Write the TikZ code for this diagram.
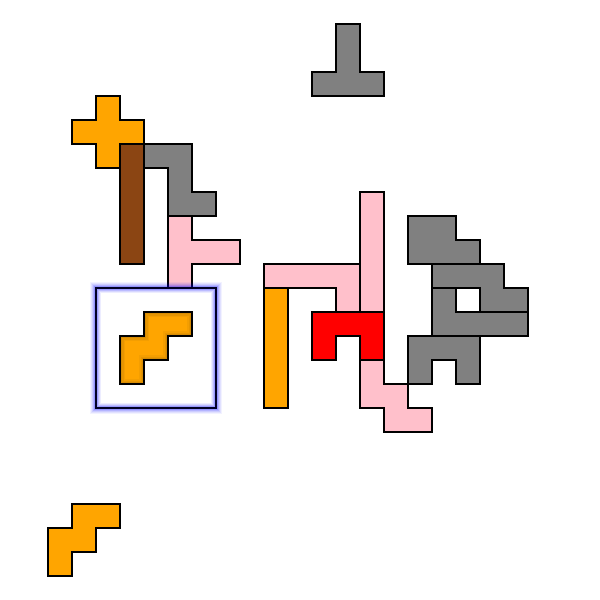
\documentclass[tikz,border=0pt]{standalone}
\usetikzlibrary{calc}
\definecolor{pgray}{HTML}{808080}
\definecolor{ppink}{HTML}{FFC0CB}
\definecolor{porange}{HTML}{FFA500}
\definecolor{pbrown}{HTML}{8B4513}
\definecolor{pred}{HTML}{FF0000}
\tikzset{
  piece/.style={draw=black, line width=2pt, line join=miter},
}
\begin{document}
\begin{tikzpicture}[x=1pt,y=-1pt]
\useasboundingbox (0,0) rectangle (600,600);
% top gray T
\draw[piece, fill=pgray] (336,24)--(360,24)--(360,72)--(384,72)--(384,96)--(312,96)--(312,72)--(336,72)--cycle;
% orange plus
\draw[piece, fill=porange] (96,96)--(120,96)--(120,120)--(144,120)--(144,144)--(120,144)--(120,168)--(96,168)--(96,144)--(72,144)--(72,120)--(96,120)--cycle;
% brown bar
\draw[piece, fill=pbrown] (120,144) rectangle (144,264);
% gray S
\draw[piece, fill=pgray] (144,144)--(192,144)--(192,192)--(216,192)--(216,216)--(168,216)--(168,168)--(144,168)--cycle;
% pink T
\draw[piece, fill=ppink] (168,216)--(192,216)--(192,240)--(240,240)--(240,264)--(192,264)--(192,288)--(168,288)--cycle;
% frame with glow
\foreach \w/\o in {12/0.05,10/0.07,8/0.09,6/0.12,4/0.18}{
  \draw[blue, line width=\w pt, opacity=\o] (96,288) rectangle (216,408);
}
\draw[fill=white, draw=none] (96,288) rectangle (216,408);
\foreach \w/\o in {10/0.07,8/0.09,6/0.12,4/0.18}{
  \begin{scope}
  \clip (96,288) rectangle (216,408);
  \draw[blue, line width=\w pt, opacity=\o] (96,288) rectangle (216,408);
  \end{scope}
}
\draw[draw=black!85!blue, line width=2pt] (96,288) rectangle (216,408);
% orange inside frame with inner shading
\fill[porange] (144,312)--(192,312)--(192,336)--(168,336)--(168,360)--(144,360)--(144,384)--(120,384)--(120,336)--(144,336)--cycle;
\begin{scope}
\clip (144,312)--(192,312)--(192,336)--(168,336)--(168,360)--(144,360)--(144,384)--(120,384)--(120,336)--(144,336)--cycle;
\foreach \w/\o in {10/0.06,7/0.08,4/0.1}{
  \draw[black!60!brown, line width=\w pt, opacity=\o] (144,312)--(192,312)--(192,336)--(168,336)--(168,360)--(144,360)--(144,384)--(120,384)--(120,336)--(144,336)--cycle;
}
\end{scope}
\draw[piece] (144,312)--(192,312)--(192,336)--(168,336)--(168,360)--(144,360)--(144,384)--(120,384)--(120,336)--(144,336)--cycle;
% bottom-left orange
\draw[piece, fill=porange] (72,504)--(120,504)--(120,528)--(96,528)--(96,552)--(72,552)--(72,576)--(48,576)--(48,528)--(72,528)--cycle;
% pink L
\draw[piece, fill=ppink] (264,264)--(360,264)--(360,312)--(336,312)--(336,288)--(264,288)--cycle;
% tall pink
\draw[piece, fill=ppink] (360,192) rectangle (384,312);
% orange bar
\draw[piece, fill=porange] (264,288) rectangle (288,408);
% red
\draw[piece, fill=pred] (312,312)--(384,312)--(384,360)--(360,360)--(360,336)--(336,336)--(336,360)--(312,360)--cycle;
% pink bottom
\draw[piece, fill=ppink] (360,360)--(384,360)--(384,384)--(408,384)--(408,408)--(432,408)--(432,432)--(384,432)--(384,408)--(360,408)--cycle;
% gray right pieces
\draw[piece, fill=pgray] (408,216)--(456,216)--(456,240)--(480,240)--(480,264)--(408,264)--cycle;
\draw[piece, fill=pgray] (432,264)--(504,264)--(504,288)--(528,288)--(528,312)--(480,312)--(480,288)--(432,288)--cycle;
\draw[piece, fill=pgray] (432,288)--(456,288)--(456,312)--(528,312)--(528,336)--(432,336)--cycle;
\draw[piece, fill=pgray] (408,336)--(480,336)--(480,384)--(456,384)--(456,360)--(432,360)--(432,384)--(408,384)--cycle;
\end{tikzpicture}
\end{document}
